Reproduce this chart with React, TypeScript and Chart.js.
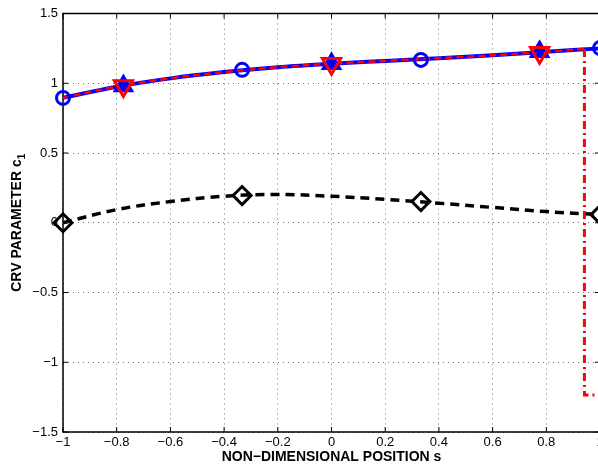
import React, { useEffect, useRef } from "react";
import { Chart, registerables } from "chart.js";

Chart.register(...registerables);

// ---- data ----
const curveS = [-1, -0.8, -0.6, -0.4, -0.2, 0, 0.2, 0.4, 0.6, 0.8, 1];
const blueCurve = [0.895, 0.975, 1.035, 1.08, 1.115, 1.14, 1.16, 1.18, 1.2, 1.225, 1.25];
const redCurveS = [-1, -0.8, -0.6, -0.4, -0.2, 0, 0.2, 0.4, 0.6, 0.8, 0.942];
const redCurve = [0.895, 0.975, 1.035, 1.08, 1.115, 1.14, 1.16, 1.18, 1.2, 1.225, 1.245];
const redDropS = [0.942, 0.942, 1.0];
const redDrop = [1.245, -1.235, -1.235];
const blackCurve = [0.0, 0.094, 0.152, 0.19, 0.203, 0.19, 0.168, 0.14, 0.11, 0.08, 0.058];

const circleS = [-1, -0.333, 0.333, 1];
const circleVals = [0.895, 1.096, 1.167, 1.252];
const triS = [-0.775, 0, 0.775];
const triUpVals = [0.98, 1.14, 1.225];
const triDownVals = [0.98, 1.14, 1.218];
const diamondS = [-1, -0.333, 0.333, 1];
const diamondVals = [0.0, 0.195, 0.152, 0.058];

const xTickVals = [-1, -0.8, -0.6, -0.4, -0.2, 0, 0.2, 0.4, 0.6, 0.8, 1];
const yTickVals = [-1.5, -1, -0.5, 0, 0.5, 1, 1.5];

const xTitle = "NON\u2212DIMENSIONAL POSITION s";
const yTitleMain = "CRV PARAMETER c";
const yTitleSub = "1";

const FONT = "'Liberation Sans', Arial, Helvetica, sans-serif";

const pts = (xs: number[], ys: number[]) => xs.map((x, i) => ({ x, y: ys[i] }));
const fmt = (v: number) => {
  const r = Math.round(v * 10) / 10;
  return String(r).replace("-", "\u2212");
};

const framePlugin = {
  id: "frame",
  beforeDatasetsDraw(chart: any) {
    const { ctx, chartArea: a, scales } = chart;
    ctx.save();
    ctx.strokeStyle = "#000";
    ctx.lineWidth = 1.5;
    ctx.strokeRect(a.left, a.top, a.right - a.left, a.bottom - a.top);
    ctx.lineWidth = 1;
    const L = 5;
    ctx.beginPath();
    for (const v of xTickVals) {
      const px = scales.x.getPixelForValue(v);
      ctx.moveTo(px, a.bottom);
      ctx.lineTo(px, a.bottom - L);
      ctx.moveTo(px, a.top);
      ctx.lineTo(px, a.top + L);
    }
    for (const v of yTickVals) {
      const py = scales.y.getPixelForValue(v);
      ctx.moveTo(a.left, py);
      ctx.lineTo(a.left + L, py);
      ctx.moveTo(a.right, py);
      ctx.lineTo(a.right - L, py);
    }
    ctx.stroke();
    ctx.restore();
  },
  afterDraw(chart: any) {
    const { ctx, chartArea: a } = chart;
    ctx.save();
    ctx.fillStyle = "#000";
    // x title
    ctx.font = `bold 14px ${FONT}`;
    ctx.textAlign = "center";
    ctx.textBaseline = "middle";
    ctx.fillText(xTitle, (a.left + a.right) / 2, 457);
    // y title with subscript
    ctx.translate(17, (a.top + a.bottom) / 2);
    ctx.rotate(-Math.PI / 2);
    ctx.font = `bold 14px ${FONT}`;
    const w1 = ctx.measureText(yTitleMain).width;
    ctx.font = `bold 10px ${FONT}`;
    const w2 = ctx.measureText(yTitleSub).width;
    const start = -(w1 + w2) / 2;
    ctx.textAlign = "left";
    ctx.font = `bold 14px ${FONT}`;
    ctx.fillText(yTitleMain, start, 0);
    ctx.font = `bold 10px ${FONT}`;
    ctx.fillText(yTitleSub, start + w1, 5);
    ctx.restore();
  },
};

export default function App() {
  const ref = useRef<HTMLCanvasElement | null>(null);
  useEffect(() => {
    if (!ref.current) return;
    const chart = new Chart(ref.current, {
      type: "scatter",
      data: {
        datasets: [
          {
            data: pts(triS, triDownVals),
            showLine: false,
            pointStyle: "triangle",
            rotation: 180,
            pointRadius: 10.5,
            borderWidth: 3,
            borderColor: "#ff0000",
            backgroundColor: "rgba(0,0,0,0)",
            order: 1,
          },
          {
            data: pts(triS, triUpVals),
            showLine: false,
            pointStyle: "triangle",
            pointRadius: 10.5,
            borderWidth: 2,
            borderColor: "#0000ff",
            backgroundColor: "#0000ff",
            order: 2,
          },
          {
            data: pts(circleS, circleVals),
            showLine: false,
            pointStyle: "circle",
            pointRadius: 6.5,
            borderWidth: 3,
            borderColor: "#0000ff",
            backgroundColor: "rgba(0,0,0,0)",
            order: 3,
          },
          {
            data: pts(redDropS, redDrop),
            showLine: true,
            pointRadius: 0,
            borderWidth: 3,
            borderColor: "#ff0000",
            borderDash: [8, 4, 2, 4],
            tension: 0,
            order: 4,
          },
          {
            data: pts(redCurveS, redCurve),
            showLine: true,
            pointRadius: 0,
            borderWidth: 2.5,
            borderColor: "#ff0000",
            borderDash: [7, 4],
            cubicInterpolationMode: "monotone",
            order: 5,
          },
          {
            data: pts(curveS, blueCurve),
            showLine: true,
            pointRadius: 0,
            borderWidth: 4,
            borderColor: "#0000ff",
            cubicInterpolationMode: "monotone",
            order: 6,
          },
          {
            data: pts(diamondS, diamondVals),
            showLine: false,
            pointStyle: "rectRot",
            pointRadius: 9,
            borderWidth: 3,
            borderColor: "#000000",
            backgroundColor: "rgba(0,0,0,0)",
            order: 7,
          },
          {
            data: pts(curveS, blackCurve),
            showLine: true,
            pointRadius: 0,
            borderWidth: 3.5,
            borderColor: "#000000",
            borderDash: [9, 6],
            tension: 0.4,
            order: 8,
          },
        ] as any,
      },
      options: {
        animation: false,
        responsive: false,
        devicePixelRatio: 1,
        clip: false as any,
        layout: { padding: { top: 9, right: 20, left: 0, bottom: 0 } },
        plugins: { legend: { display: false }, tooltip: { enabled: false } },
        scales: {
          x: {
            type: "linear",
            min: -1,
            max: 1,
            afterFit: (s: any) => {
              s.height = 36;
            },
            afterBuildTicks: (s: any) => {
              s.ticks = xTickVals.map((v) => ({ value: v }));
            },
            ticks: {
              autoSkip: false,
              maxRotation: 0,
              padding: 3,
              color: "#000",
              font: { family: FONT, size: 13 },
              callback: (v: any) => fmt(Number(v)),
            },
            grid: {
              color: "rgba(0,0,0,0.55)",
              lineWidth: 1,
              drawTicks: false,
              tickBorderDash: [1, 4],
            } as any,
            border: { display: false, dash: [1, 4] } as any,
          },
          y: {
            type: "linear",
            min: -1.5,
            max: 1.5,
            afterFit: (s: any) => {
              s.width = 63;
            },
            afterBuildTicks: (s: any) => {
              s.ticks = yTickVals.map((v) => ({ value: v }));
            },
            ticks: {
              autoSkip: false,
              padding: 5,
              color: "#000",
              font: { family: FONT, size: 13 },
              callback: (v: any) => fmt(Number(v)),
            },
            grid: {
              color: "rgba(0,0,0,0.55)",
              lineWidth: 1,
              drawTicks: false,
            },
            border: { display: false, dash: [1, 4] } as any,
          },
        },
      },
      plugins: [framePlugin],
    });
    return () => chart.destroy();
  }, []);
  return (
    <div
      style={{
        position: "fixed",
        left: 0,
        top: 0,
        width: 598,
        height: 468,
        overflow: "hidden",
        background: "#fff",
      }}
    >
      <canvas ref={ref} width={620} height={468} style={{ width: 620, height: 468, display: "block" }} />
    </div>
  );
}
